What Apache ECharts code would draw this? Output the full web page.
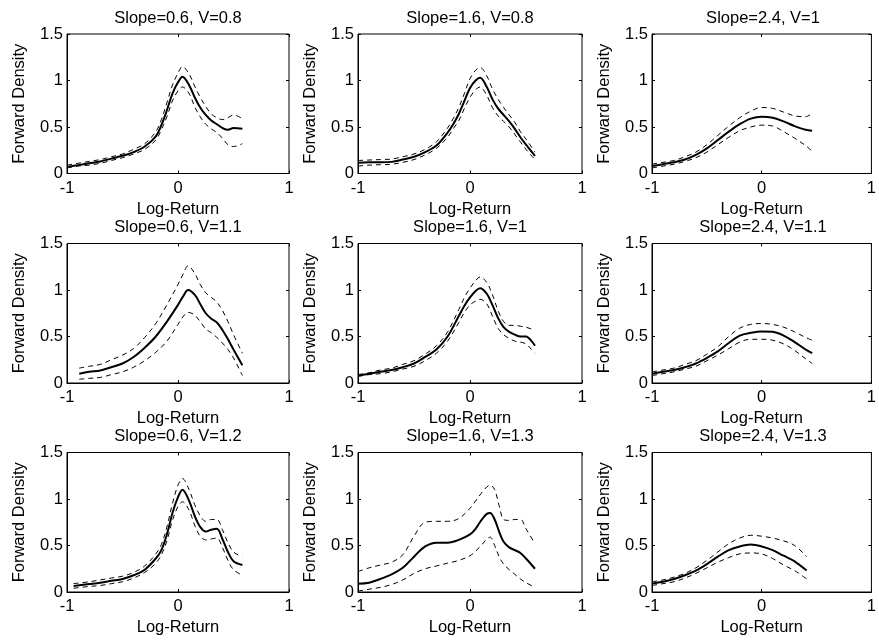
<!DOCTYPE html>
<html>
<head>
<meta charset="utf-8">
<script src="https://cdn.jsdelivr.net/npm/echarts@6/dist/echarts.min.js"></script>
<style>html,body{margin:0;padding:0;background:#fff;}#c{width:879px;height:641px;}</style>
</head>
<body>
<div id="c"></div>
<script>
// ---- data ----
const titles = ["Slope=0.6, V=0.8","Slope=1.6, V=0.8","Slope=2.4, V=1",
                "Slope=0.6, V=1.1","Slope=1.6, V=1","Slope=2.4, V=1.1",
                "Slope=0.6, V=1.2","Slope=1.6, V=1.3","Slope=2.4, V=1.3"];
const xTickValues = [-1, 0, 1];
const yTickValues = [0, 0.5, 1, 1.5];

const p1X   = [-1,-0.9,-0.8,-0.7,-0.6,-0.5,-0.4,-0.3,-0.2,-0.15,-0.1,-0.05,0,0.04,0.1,0.15,0.2,0.25,0.3,0.35,0.4,0.45,0.5,0.58];
const p1Mid = [0.07,0.09,0.11,0.13,0.16,0.19,0.23,0.29,0.40,0.52,0.68,0.86,0.98,1.04,0.95,0.82,0.71,0.63,0.57,0.53,0.49,0.47,0.49,0.48];
const p1Hi  = [0.09,0.11,0.13,0.15,0.18,0.21,0.26,0.32,0.45,0.58,0.76,0.95,1.08,1.15,1.07,0.94,0.82,0.72,0.64,0.60,0.58,0.60,0.63,0.59];
const p1Lo  = [0.06,0.08,0.09,0.11,0.14,0.17,0.21,0.26,0.36,0.47,0.61,0.78,0.89,0.93,0.86,0.72,0.61,0.53,0.48,0.44,0.38,0.31,0.29,0.32];

const p2X   = [-1,-0.9,-0.8,-0.7,-0.6,-0.5,-0.4,-0.3,-0.2,-0.15,-0.1,-0.05,0,0.05,0.09,0.15,0.2,0.25,0.3,0.35,0.4,0.45,0.5,0.58];
const p2Mid = [0.115,0.12,0.12,0.125,0.15,0.18,0.23,0.3,0.44,0.53,0.64,0.78,0.92,1.0,1.03,0.93,0.8,0.7,0.63,0.56,0.48,0.39,0.31,0.19];
const p2Hi  = [0.14,0.145,0.15,0.155,0.18,0.21,0.26,0.34,0.49,0.59,0.71,0.86,1.02,1.11,1.14,1.05,0.91,0.8,0.71,0.63,0.55,0.45,0.37,0.23];
const p2Lo  = [0.08,0.09,0.095,0.1,0.12,0.15,0.2,0.27,0.39,0.48,0.57,0.7,0.82,0.9,0.93,0.84,0.71,0.62,0.56,0.5,0.42,0.34,0.26,0.15];

const p3X   = [-1,-0.9,-0.8,-0.7,-0.6,-0.5,-0.4,-0.3,-0.2,-0.1,0,0.1,0.2,0.3,0.4,0.46];
const p3Mid = [0.08,0.1,0.12,0.15,0.2,0.27,0.36,0.45,0.53,0.59,0.61,0.6,0.56,0.51,0.47,0.46];
const p3Hi  = [0.1,0.12,0.14,0.18,0.23,0.31,0.41,0.51,0.6,0.67,0.71,0.7,0.66,0.62,0.61,0.65];
const p3Lo  = [0.06,0.08,0.1,0.13,0.17,0.23,0.31,0.39,0.46,0.5,0.52,0.51,0.45,0.38,0.3,0.24];

const p4X   = [-0.89,-0.8,-0.7,-0.6,-0.5,-0.4,-0.3,-0.2,-0.1,0,0.05,0.09,0.15,0.2,0.25,0.3,0.35,0.4,0.45,0.5,0.58];
const p4Mid = [0.1,0.12,0.135,0.17,0.21,0.28,0.38,0.5,0.66,0.84,0.94,1.0,0.95,0.85,0.75,0.69,0.65,0.57,0.47,0.36,0.19];
const p4Hi  = [0.16,0.18,0.2,0.25,0.3,0.37,0.49,0.64,0.84,1.06,1.18,1.26,1.18,1.06,0.97,0.92,0.87,0.78,0.66,0.52,0.32];
const p4Lo  = [0.04,0.05,0.06,0.09,0.12,0.17,0.24,0.33,0.45,0.63,0.72,0.76,0.73,0.66,0.58,0.54,0.49,0.43,0.36,0.27,0.08];

const p5X   = [-1,-0.9,-0.8,-0.7,-0.6,-0.5,-0.4,-0.3,-0.2,-0.1,-0.05,0,0.05,0.09,0.15,0.2,0.25,0.3,0.35,0.4,0.45,0.5,0.55,0.58];
const p5Mid = [0.08,0.1,0.12,0.14,0.17,0.21,0.28,0.36,0.5,0.72,0.83,0.92,0.99,1.02,0.96,0.84,0.7,0.6,0.55,0.52,0.5,0.5,0.45,0.4];
const p5Hi  = [0.09,0.11,0.14,0.16,0.2,0.24,0.31,0.4,0.55,0.79,0.92,1.02,1.1,1.14,1.08,0.95,0.78,0.66,0.62,0.62,0.61,0.6,0.58,0.57];
const p5Lo  = [0.07,0.09,0.1,0.12,0.15,0.18,0.24,0.32,0.45,0.65,0.76,0.84,0.88,0.9,0.85,0.72,0.59,0.52,0.48,0.45,0.44,0.42,0.36,0.32];

const p6X   = [-1,-0.9,-0.8,-0.7,-0.6,-0.5,-0.4,-0.3,-0.2,-0.1,0,0.1,0.2,0.3,0.4,0.46];
const p6Mid = [0.1,0.12,0.14,0.17,0.21,0.27,0.34,0.43,0.51,0.54,0.555,0.55,0.51,0.44,0.36,0.32];
const p6Hi  = [0.12,0.14,0.16,0.2,0.24,0.31,0.39,0.5,0.59,0.63,0.64,0.63,0.6,0.55,0.49,0.46];
const p6Lo  = [0.08,0.1,0.12,0.15,0.18,0.24,0.3,0.37,0.44,0.47,0.47,0.46,0.42,0.35,0.26,0.21];

const p7X   = [-0.94,-0.8,-0.7,-0.6,-0.5,-0.4,-0.3,-0.2,-0.15,-0.1,-0.05,0,0.04,0.1,0.15,0.2,0.25,0.3,0.35,0.4,0.45,0.5,0.58];
const p7Mid = [0.065,0.085,0.1,0.12,0.14,0.18,0.24,0.36,0.45,0.62,0.85,1.02,1.1,0.98,0.82,0.7,0.65,0.67,0.68,0.57,0.43,0.33,0.29];
const p7Hi  = [0.09,0.11,0.13,0.15,0.17,0.21,0.28,0.41,0.51,0.7,0.95,1.15,1.22,1.1,0.94,0.82,0.76,0.78,0.78,0.67,0.53,0.43,0.38];
const p7Lo  = [0.04,0.06,0.07,0.09,0.11,0.15,0.21,0.31,0.4,0.55,0.77,0.92,0.97,0.88,0.72,0.6,0.56,0.57,0.58,0.48,0.34,0.24,0.18];

const p8X   = [-1,-0.9,-0.8,-0.7,-0.6,-0.5,-0.4,-0.3,-0.2,-0.1,0,0.05,0.1,0.15,0.18,0.22,0.26,0.3,0.35,0.4,0.45,0.5,0.58];
const p8Mid = [0.09,0.1,0.14,0.19,0.26,0.38,0.49,0.53,0.53,0.56,0.62,0.68,0.77,0.84,0.85,0.78,0.65,0.54,0.48,0.45,0.42,0.36,0.25];
const p8Hi  = [0.22,0.26,0.29,0.32,0.4,0.6,0.75,0.76,0.76,0.79,0.9,0.98,1.06,1.13,1.15,1.1,0.93,0.78,0.77,0.78,0.78,0.68,0.52];
const p8Lo  = [0.01,0.03,0.05,0.08,0.13,0.2,0.25,0.28,0.31,0.34,0.39,0.44,0.5,0.57,0.59,0.5,0.38,0.3,0.24,0.19,0.14,0.1,0.05];

const p9X   = [-1,-0.9,-0.8,-0.7,-0.6,-0.5,-0.4,-0.3,-0.2,-0.1,0,0.1,0.2,0.3,0.41];
const p9Mid = [0.09,0.11,0.14,0.18,0.23,0.3,0.38,0.45,0.49,0.51,0.49,0.45,0.39,0.33,0.23];
const p9Hi  = [0.11,0.13,0.16,0.2,0.26,0.34,0.43,0.52,0.58,0.61,0.6,0.58,0.55,0.5,0.38];
const p9Lo  = [0.07,0.09,0.11,0.15,0.2,0.26,0.32,0.37,0.41,0.42,0.41,0.36,0.29,0.23,0.14];

const panels = [
  [p1X,p1Mid,p1Hi,p1Lo],[p2X,p2Mid,p2Hi,p2Lo],[p3X,p3Mid,p3Hi,p3Lo],
  [p4X,p4Mid,p4Hi,p4Lo],[p5X,p5Mid,p5Hi,p5Lo],[p6X,p6Mid,p6Hi,p6Lo],
  [p7X,p7Mid,p7Hi,p7Lo],[p8X,p8Mid,p8Hi,p8Lo],[p9X,p9Mid,p9Hi,p9Lo]
];

// ---- layout ----
const colLefts = [67, 358, 652];
const colWidths = [222, 224, 222];
const rowTops = [34, 243.5, 452.5];
const rowHeights = [139.5, 139.5, 139.5];
const FONT = 'Liberation Sans, Arial, Helvetica, sans-serif';
const FS = 16.5;

const grid = [], xAxis = [], yAxis = [], series = [], graphic = [];
const pair = (xs, ys) => xs.map((v, k) => [v, ys[k]]);
const tick = {show: true, inside: true, length: 3, lineStyle: {color: '#000'}};

panels.forEach((p, i) => {
  const r = Math.floor(i / 3), c = i % 3;
  grid.push({left: colLefts[c], top: rowTops[r], width: colWidths[c], height: rowHeights[r],
             show: true, borderColor: '#000', borderWidth: 1, backgroundColor: '#fff'});
  const xMain = {
    type: 'value', gridIndex: i, min: xTickValues[0], max: xTickValues[xTickValues.length-1], interval: 1,
    position: 'bottom', name: 'Log-Return', nameLocation: 'middle', nameGap: 27,
    nameTextStyle: {color: '#000', fontSize: FS, fontFamily: FONT},
    axisLine: {show: true, onZero: false, lineStyle: {color: '#000', width: 1}},
    axisTick: tick,
    axisLabel: {color: '#000', fontSize: FS, fontFamily: FONT, margin: 6},
    splitLine: {show: false}
  };
  const xTop = {
    type: 'value', gridIndex: i, min: xTickValues[0], max: xTickValues[xTickValues.length-1], interval: 1, position: 'top',
    axisLine: {show: false, onZero: false}, axisLabel: {show: false},
    axisTick: tick, splitLine: {show: false}
  };
  const yMain = {
    type: 'value', gridIndex: i, min: yTickValues[0], max: yTickValues[yTickValues.length-1], interval: 0.5,
    position: 'left', name: 'Forward Density', nameLocation: 'middle', nameGap: 39,
    nameTextStyle: {color: '#000', fontSize: FS, fontFamily: FONT},
    axisLine: {show: true, onZero: false, lineStyle: {color: '#000', width: 1}},
    axisTick: tick,
    axisLabel: {color: '#000', fontSize: FS, fontFamily: FONT, margin: 4},
    splitLine: {show: false}
  };
  const yRight = {
    type: 'value', gridIndex: i, min: yTickValues[0], max: yTickValues[yTickValues.length-1], interval: 0.5, position: 'right',
    axisLine: {show: false, onZero: false}, axisLabel: {show: false},
    axisTick: tick, splitLine: {show: false}
  };
  xAxis.push(xMain, xTop);
  yAxis.push(yMain, yRight);
  const [xs, mid, hi, lo] = p;
  const base = {type: 'line', xAxisIndex: 2*i, yAxisIndex: 2*i, showSymbol: false, symbol: 'none',
                smooth: 0.35, silent: true, clip: true};
  series.push(Object.assign({}, base, {data: pair(xs, hi), lineStyle: {color: '#000', width: 1, type: [5, 4]}}));
  series.push(Object.assign({}, base, {data: pair(xs, lo), lineStyle: {color: '#000', width: 1, type: [5, 4]}}));
  series.push(Object.assign({}, base, {data: pair(xs, mid), lineStyle: {color: '#000', width: 2}}));
  graphic.push({type: 'text', x: colLefts[c] + colWidths[c]/2, y: rowTops[r] - 16,
    style: {text: titles[i], align: 'center', verticalAlign: 'middle', fill: '#000',
            font: FS + 'px ' + FONT}});
});

const chart = echarts.init(document.getElementById('c'), null, {renderer: 'canvas'});
chart.setOption({
  animation: false,
  backgroundColor: '#fff',
  textStyle: {fontFamily: FONT},
  grid, xAxis, yAxis, series, graphic
});
</script>
</body>
</html>
